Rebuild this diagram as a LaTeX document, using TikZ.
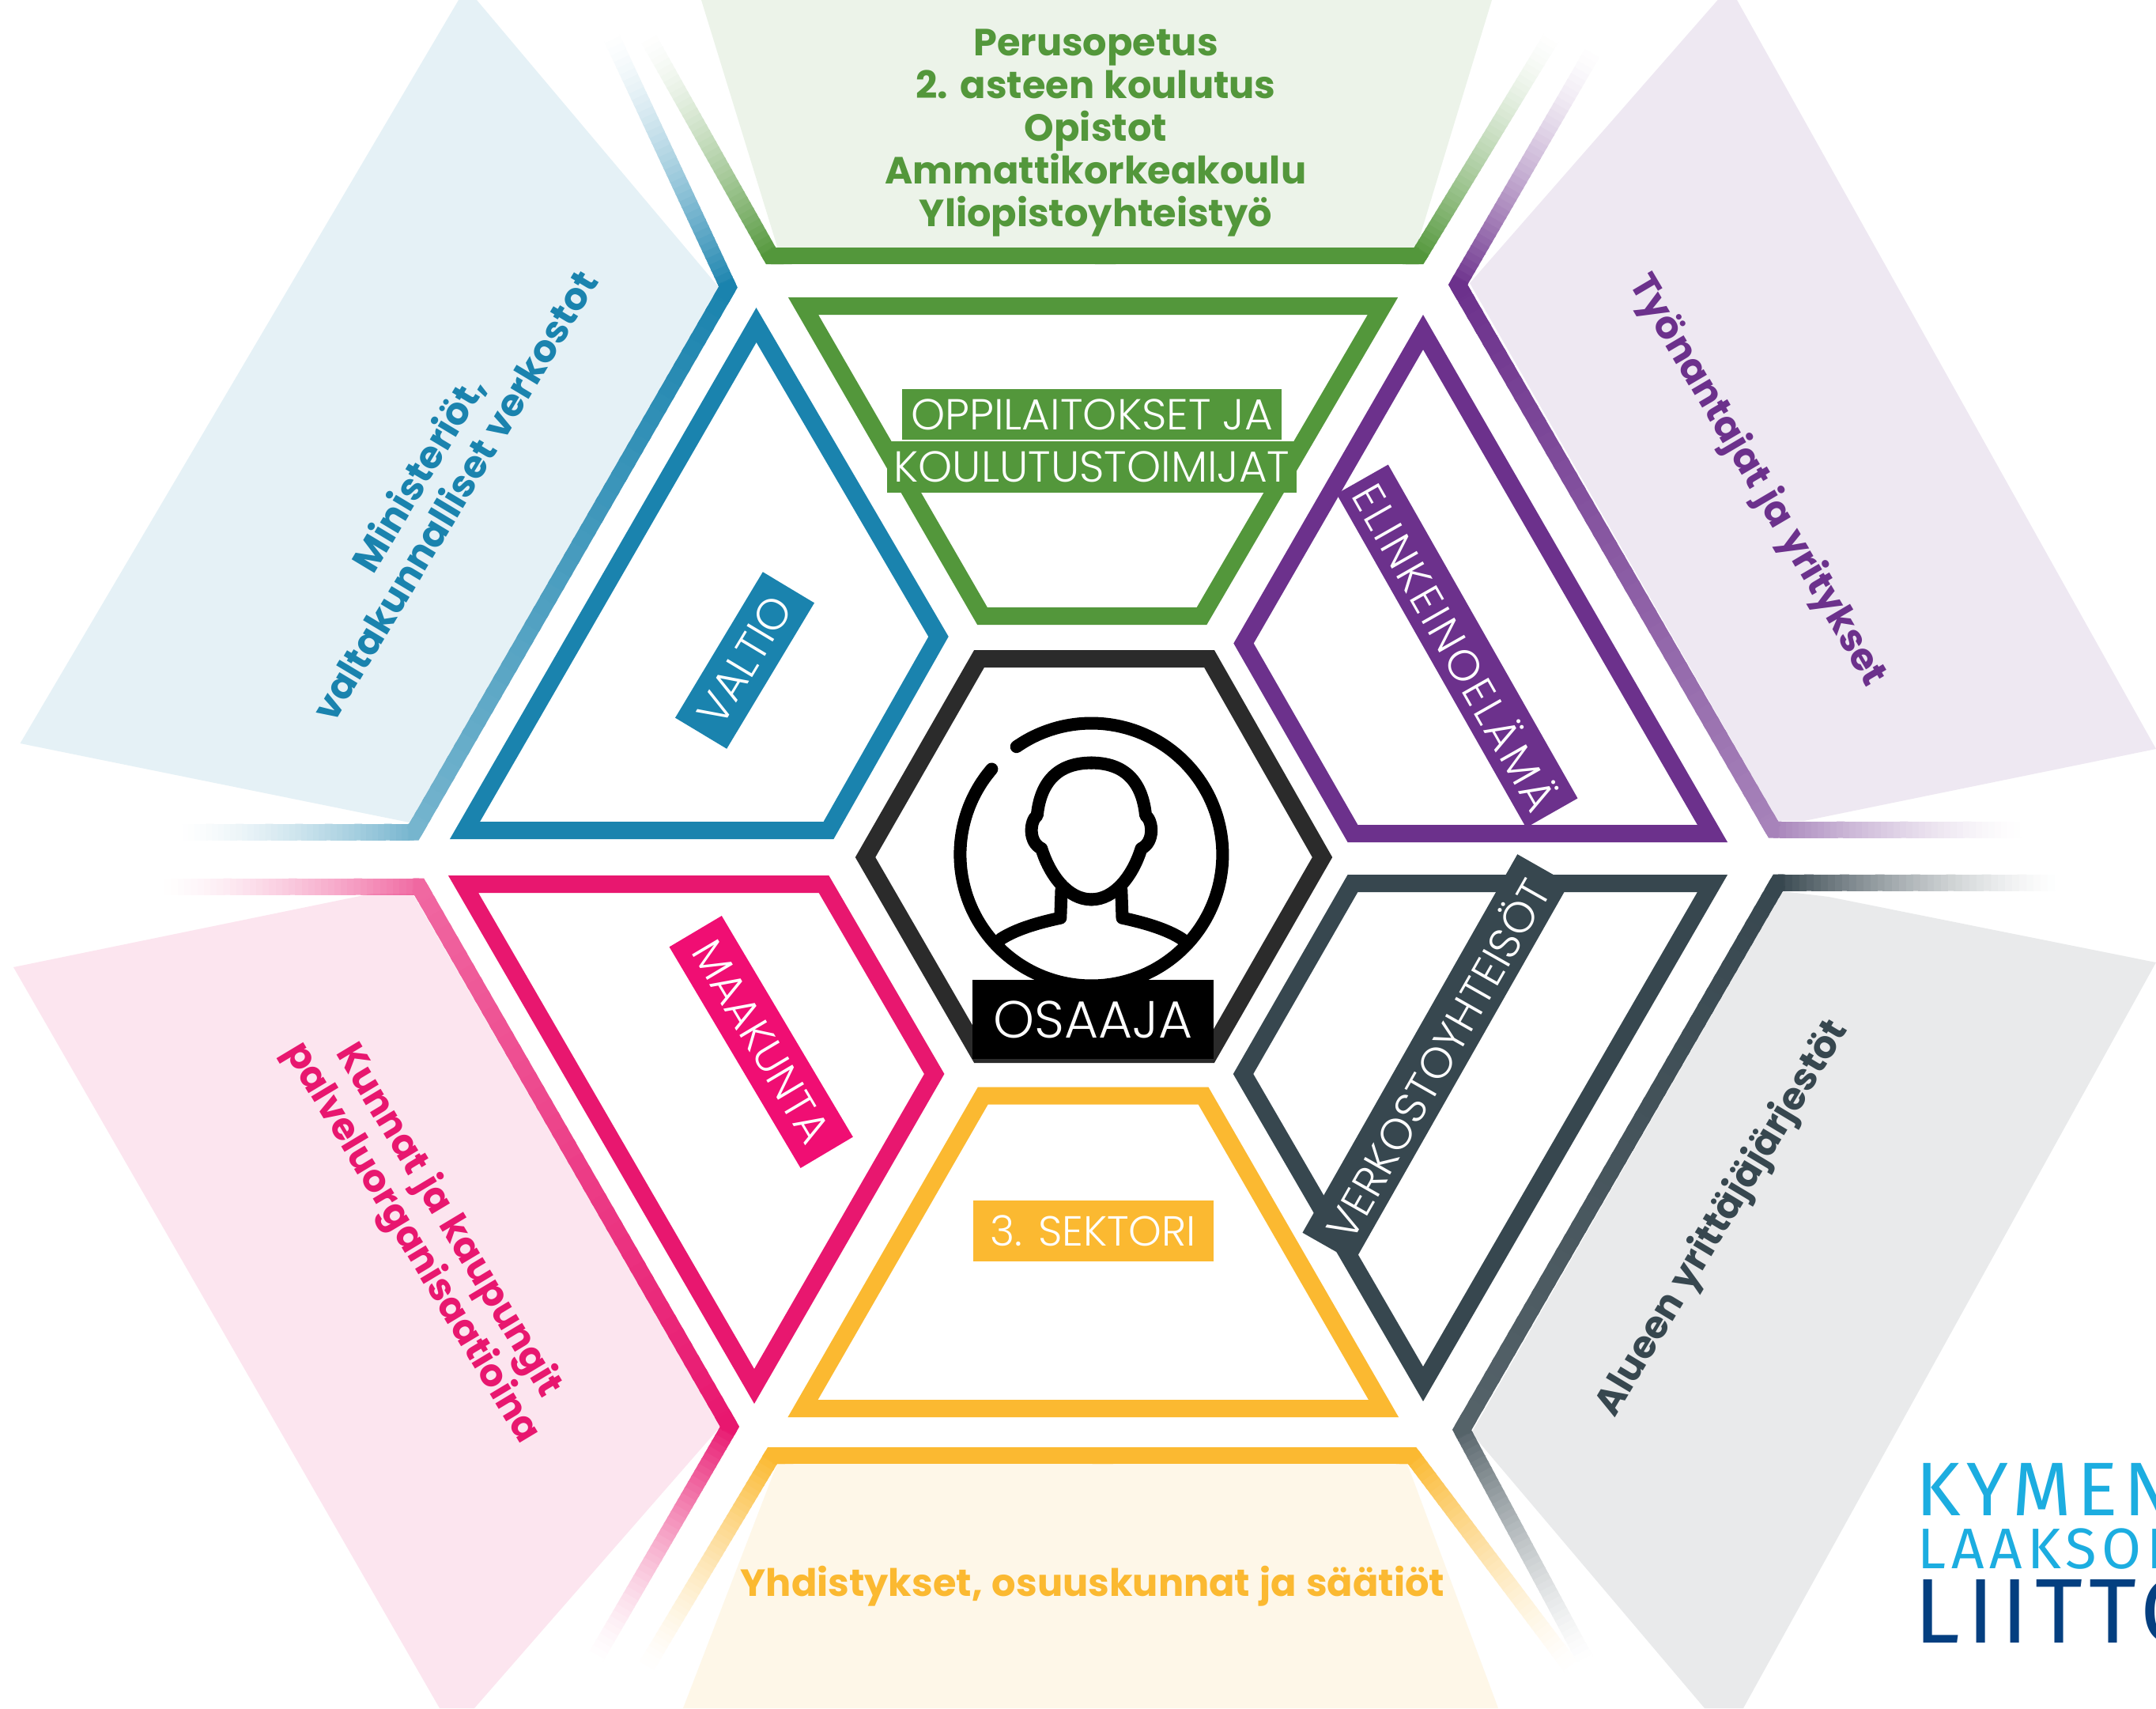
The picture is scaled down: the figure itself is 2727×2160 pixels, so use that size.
\documentclass[tikz,border=0pt]{standalone}
\usepackage{fontspec}
\setmainfont[WordSpace=1.2]{Poppins}
\newfontfamily\lightfont{Poppins Light}
\newfontfamily\lightwide[LetterSpace=6]{Poppins Light}
\newfontfamily\logofont[LetterSpace=7.5]{Fira Sans}
\newfontfamily\logowide[LetterSpace=9]{Fira Sans}
\usetikzlibrary{calc}
\definecolor{valtio}{HTML}{1A83AE}
\definecolor{oppi}{HTML}{53973B}
\definecolor{elinkeino}{HTML}{6C318C}
\definecolor{verkosto}{HTML}{37474F}
\definecolor{sektori}{HTML}{FBB931}
\definecolor{maakunta}{HTML}{E8176F}
\definecolor{maakuntatag}{HTML}{F00E73}
\definecolor{osaaja}{HTML}{2B2B2B}
\definecolor{logolight}{HTML}{1CADE0}
\definecolor{logodark}{HTML}{043F80}
\tikzset{
    panel/.style={line width=2.2mm,draw=#1},
    bar/.style={line width=2.1mm},
    tag/.style={fill=#1,text=white,inner sep=0pt,font=\lightfont\fontsize{15.6}{18}\selectfont},
    outertext/.style={text=#1,align=center,font=\bfseries\fontsize{13.6}{15.4}\selectfont},
    icon/.style={line width=1.6mm,line cap=round,line join=round,black},
}
\newcommand{\OuterBar}[7]{% far end,corner,corner,far end,colour,percent,percent
    \foreach \i in {1,...,40} {
        \pgfmathsetmacro{\ta}{(\i-1)/40}
        \pgfmathsetmacro{\tb}{min(1,(\i+0.3)/40)}
        \pgfmathsetmacro{\pa}{#6*((\i-0.5)/40)^1.5}
        \pgfmathsetmacro{\pb}{#6+(#7-#6)*(\i-0.5)/40}
        \pgfmathsetmacro{\pc}{#7*(1-(\i-0.5)/40)^1.5}
        \draw[bar,#5!\pa!white] ($#1!\ta!#2$) -- ($#1!\tb!#2$);
        \draw[bar,#5!\pb!white] ($#2!\ta!#3$) -- ($#2!\tb!#3$);
        \draw[bar,#5!\pc!white] ($#3!\ta!#4$) -- ($#3!\tb!#4$);
    }
    \draw[bar,#5!#6!white] ($#2!0.02!#1$) -- #2 -- ($#2!0.02!#3$);
    \draw[bar,#5!#7!white] ($#3!0.02!#2$) -- #3 -- ($#3!0.02!#4$);
}
\begin{document}
\begin{tikzpicture}[x=0.01cm,y=-0.01cm]
        \clip (0,0) rectangle (2727,2160);
        \fill[white] (0,0) rectangle (2727,2160);

        % outer bars
        \OuterBar{(223,1052)}{(523.5,1052)}{(921,363)}{(771,42)}{valtio}{60}{100};
        \OuterBar{(817,43)}{(975,323.5)}{(1794.5,323.5)}{(1965,43)}{oppi}{100}{100};
        \OuterBar{(2018,60)}{(1844,360)}{(2243,1049)}{(2563,1049)}{elinkeino}{100}{60};
        \OuterBar{(2608,1116)}{(2249,1116)}{(1849,1808)}{(2008,2104)}{verkosto}{100}{85};
        \OuterBar{(814,2113)}{(977,1840.5)}{(1786,1840.5)}{(1991,2113)}{sektori}{100}{100};
        \OuterBar{(200,1121)}{(530,1121)}{(923,1804)}{(751,2100)}{maakunta}{65}{100};

        % outer areas
        \fill[valtio,opacity=0.11] (25.5,940) -- (580,0) -- (603,0) -- (909,363) -- (518,1040) -- cycle;
        \fill[oppi,opacity=0.11] (887,0) -- (1887,0) -- (1791,315) -- (984,315) -- cycle;
        \fill[elinkeino,opacity=0.11] (1859,358) -- (2172.6,0) -- (2197,0) -- (2727,947) -- (2282,1038) -- (2249,1038) -- cycle;
        \fill[verkosto,opacity=0.11] (1861,1812) -- (2255,1127) -- (2313,1134) -- (2727,1217) -- (2205,2160) -- (2156,2160) -- cycle;
        \fill[sektori,opacity=0.11] (983,1851) -- (1780,1851) -- (1895,2160) -- (864,2160) -- cycle;
        \fill[maakunta,opacity=0.11] (17,1223) -- (470,1130) -- (522,1130) -- (911,1804) -- (600,2160) -- (556,2160) -- cycle;

        % inner panels
        \draw[panel=valtio] (956.6,411) -- (1187,805) -- (1048,1050) -- (588,1050) -- cycle;
        \draw[panel=oppi] (1016,387) -- (1749,387) -- (1520,779) -- (1242.5,779) -- cycle;
        \draw[panel=elinkeino] (1800,420) -- (2166,1054) -- (1711,1054) -- (1573,813.5) -- cycle;
        \draw[panel=verkosto] (2166,1117) -- (1711,1117) -- (1572.5,1358) -- (1800,1750) -- cycle;
        \draw[panel=sektori] (1243.3,1385.5) -- (1522,1385.5) -- (1750,1781) -- (1015.5,1781) -- cycle;
        \draw[panel=maakunta] (586,1118) -- (1042,1118) -- (1181.7,1358) -- (954,1753) -- cycle;
        \draw[panel=osaaja] (1238.5,833) -- (1529.5,833) -- (1672.5,1084) -- (1529.5,1333) -- (1238.5,1333) -- (1094.5,1084) -- cycle;

        % person
        \draw[icon] plot[domain=139.4:484.8,samples=90,smooth] ({1380.4+166*cos(\x)},{1080.5-166*sin(\x)});
        \foreach \s in {1,-1} {
            \begin{scope}[shift={(1380.4,0)},xscale=\s]
                \draw[icon] (0,964.6) .. controls (48.4,964.6) and (65.2,996) .. (68.6,1031)
                    .. controls (78,1038) and (80,1065) .. (63.1,1073)
                    .. controls (52.6,1107) and (29.5,1137.4) .. (0,1137.4);
                \draw[icon] (37.9,1125.6) -- (39.1,1160.7) .. controls (73.7,1168) and (99,1177) .. (115,1187.7);
            \end{scope}
        }

        % labels
        \node[fill=black,text=white,inner sep=0pt,minimum width=3.05cm,minimum height=1.004cm,font=\lightfont\fontsize{18.8}{21}\selectfont] (osaaja) at (1382.5,1289) {OSAAJA};
        \node[tag=oppi,minimum width=4.8cm,minimum height=0.64cm] (oppi1) at (1381,524) {OPPILAITOKSET JA};
        \node[tag=oppi,minimum width=5.18cm,minimum height=0.65cm] (oppi2) at (1381,590.5) {KOULUTUSTOIMIJAT};
        \node[tag=valtio,rotate=59,minimum width=2.15cm,minimum height=0.76cm] (valtio) at (942,835) {VALTIO};
        \node[tag=elinkeino,rotate=-60.4,minimum width=4.85cm,minimum height=0.75cm,font=\lightwide\fontsize{15.6}{18}\selectfont] (elinkeino) at (1843,817) {ELINKEINOELÄMÄ};
        \node[tag=verkosto,rotate=60.4,minimum width=5.5cm,minimum height=0.75cm] (verkosto) at (1816,1338) {VERKOSTOYHTEISÖT};
        \node[tag=maakuntatag,rotate=-59.3,minimum width=3.25cm,minimum height=0.77cm] (maakunta) at (962.7,1317.5) {MAAKUNTA};
        \node[tag=sektori,minimum width=3.035cm,minimum height=0.775cm,font=\lightfont\fontsize{15.1}{18}\selectfont] (sektori) at (1383,1556.7) {3. SEKTORI};

        \node[outertext=oppi] (oppilaitos) at (1386,168) {Perusopetus\\2. asteen koulutus\\Opistot\\Ammattikorkeakoulu\\Yliopistoyhteistyö};
        \node[outertext=valtio,rotate=59] (ministerio) at (551,612) {Ministeriöt,\\valtakunnalliset verkostot};
        \node[outertext=elinkeino,rotate=-59.5] (tyonantajat) at (2222,608) {Työnantajat ja yritykset};
        \node[outertext=maakunta,rotate=-59] (kunnat) at (543,1558) {Kunnat ja kaupungit\\palveluorganisaatioina};
        \node[outertext=verkosto,rotate=59] (alueen) at (2179,1541) {Alueen yrittäjäjärjestöt};
        \node[outertext=sektori] (yhdistykset) at (1382,2006) {Yhdistykset, osuuskunnat ja säätiöt};

        \node[anchor=base west,inner sep=0pt,text=logolight,font=\logofont\fontsize{27.3}{30}\selectfont] (kymen) at (2423,1916) {KYMEN};
        \node[anchor=base west,inner sep=0pt,text=logolight,font=\logowide\fontsize{20.6}{24}\selectfont] (laakson) at (2425,1983) {LAAKSON};
        \node[anchor=base west,inner sep=0pt,text=logodark,font=\logofont\fontsize{33}{36}\selectfont] (liitto) at (2421,2077) {LIITTO};
\end{tikzpicture}
\end{document}
